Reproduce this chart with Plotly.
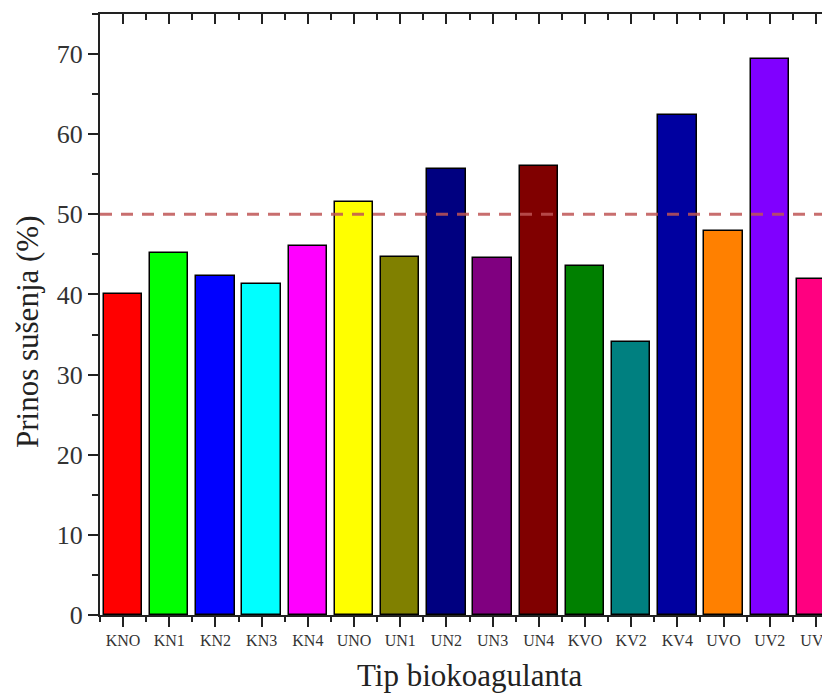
import plotly.graph_objects as go

categories = ["KNO", "KN1", "KN2", "KN3", "KN4", "UNO", "UN1", "UN2",
              "UN3", "UN4", "KVO", "KV2", "KV4", "UVO", "UV2", "UV4"]
values = [40.0, 45.2, 42.3, 41.3, 46.0, 51.6, 44.7, 55.6,
          44.6, 56.0, 43.6, 34.1, 62.4, 47.9, 69.4, 41.9]
bar_colors = ["#FF0000", "#00FF00", "#0000FF", "#00FFFF", "#FF00FF", "#FFFF00",
              "#808000", "#000080", "#800080", "#800000", "#008000", "#008080",
              "#0000A0", "#FF8000", "#8000FF", "#FF0080"]
threshold = 50
y_ticks = [0, 10, 20, 30, 40, 50, 60, 70]

xpos = list(range(len(categories)))
xr = [-0.5, 15.305]
yr = [0, 75]
serif = "Liberation Serif, Times New Roman, serif"

fig = go.Figure()
fig.add_trace(go.Bar(
    x=xpos, y=values, width=0.83,
    marker=dict(color=bar_colors, line=dict(color="black", width=1.5)),
    showlegend=False,
))
# invisible trace to activate secondary axes
fig.add_trace(go.Scatter(x=[0], y=[0], xaxis="x2", yaxis="y2", mode="markers",
                         marker=dict(opacity=0), showlegend=False, hoverinfo="skip"))

fig.add_shape(type="line", xref="paper", x0=0, x1=1, yref="y", y0=threshold, y1=threshold,
              line=dict(color="rgba(190,85,85,0.85)", width=3, dash="12px,9px"), layer="above")

# page body has an 8px margin: the figure is 822x687 so it fills the 830x695 window
fig.update_layout(
    width=822, height=687,
    margin=dict(l=92, r=0, t=6, b=80),
    paper_bgcolor="white", plot_bgcolor="white",
    font=dict(family=serif, color="#222"),
    bargap=0,
    xaxis=dict(range=xr, tickmode="array", tickvals=xpos, ticktext=categories,
               ticks="outside", ticklen=10, tickwidth=2, tickcolor="#222",
               ticklabeloverflow="allow",
               tickfont=dict(size=16, family=serif, color="#333"),
               showline=True, linewidth=2, linecolor="#222", showgrid=False, zeroline=False,
               minor=dict(tickmode="array", tickvals=[i - 0.5 for i in range(17)],
                          ticks="outside", ticklen=5, tickwidth=2, tickcolor="#222")),
    xaxis2=dict(range=xr, overlaying="x", side="top", tickmode="array", tickvals=xpos,
                ticks="inside", ticklen=10, tickwidth=2, tickcolor="#222", showticklabels=False,
                showline=True, linewidth=2, linecolor="#222", showgrid=False, zeroline=False,
                minor=dict(tickmode="array", tickvals=[i - 0.5 for i in range(17)],
                           ticks="inside", ticklen=6, tickwidth=2, tickcolor="#222")),
    yaxis=dict(range=yr, tickmode="array", tickvals=y_ticks,
               ticks="outside", ticklen=10, tickwidth=2, tickcolor="#222",
               tickfont=dict(size=26, family=serif, color="#333"),
               showline=True, linewidth=2, linecolor="#222", showgrid=False, zeroline=False,
               minor=dict(tickmode="array", tickvals=[5, 15, 25, 35, 45, 55, 65, 75],
                          ticks="outside", ticklen=6, tickwidth=2, tickcolor="#222")),
    yaxis2=dict(range=yr, overlaying="y", side="right", tickmode="array", tickvals=y_ticks,
                ticks="inside", ticklen=3, tickwidth=2, tickcolor="#222", showticklabels=False,
                showline=False, showgrid=False, zeroline=False),
    annotations=[
        dict(text="Tip biokoagulanta", xref="paper", yref="paper", x=(470 - 100) / 730, y=0,
             yshift=-60, xanchor="center", yanchor="middle", showarrow=False,
             font=dict(size=31, family=serif, color="#222")),
        dict(text="Prinos sušenja (%)", xref="paper", yref="paper", x=0, xshift=-73,
             y=(615 - 332) / 601, textangle=-90, xanchor="center", yanchor="middle",
             showarrow=False, font=dict(size=31, family=serif, color="#222")),
    ],
)

fig.write_html("out.html")
